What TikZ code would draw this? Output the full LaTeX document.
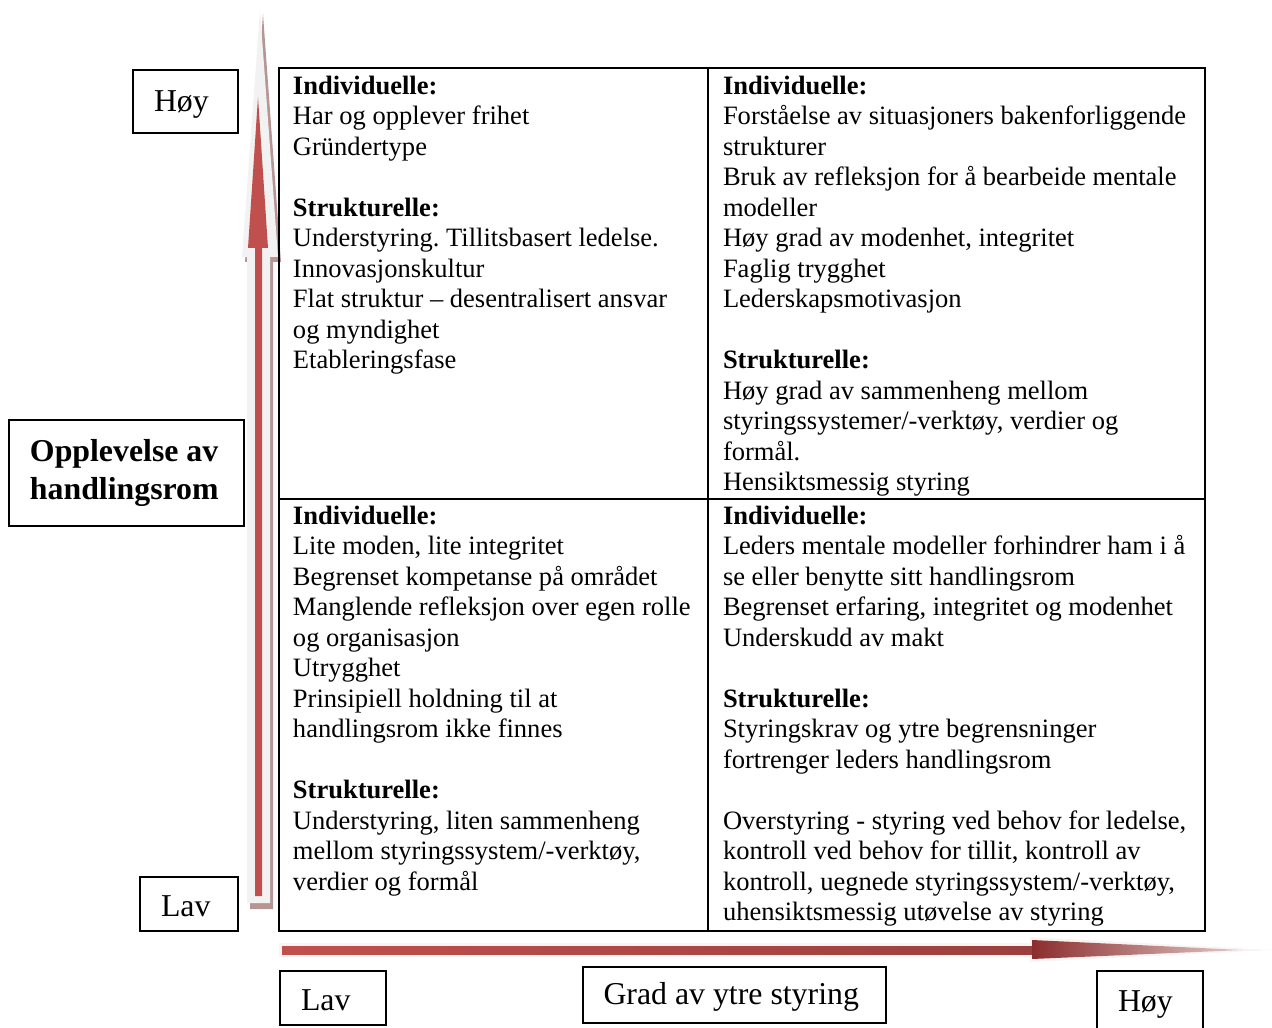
\documentclass[tikz,border=0pt]{standalone}
\usepackage{fontspec}
\setmainfont{Liberation Serif}
\usetikzlibrary{positioning}
\definecolor{axisred}{HTML}{C0504D}
\definecolor{axisdark}{HTML}{8C2D2D}
\definecolor{axislight}{HTML}{F2F2F2}
\definecolor{axisshade}{HTML}{B89595}
\def\pxu{0.4525pt}
\frenchspacing
\begin{document}
\begin{tikzpicture}[x=\pxu, y=-\pxu, line width=0.9pt,
  cell/.style={anchor=north west, inner sep=0pt, align=left, font=\fontsize{12}{13.8}\selectfont},
  label/.style={draw, line width=0.9pt, inner xsep=21*\pxu, inner ysep=0pt, align=flush left,
    font=\fontsize{14.4}{17.2}\selectfont},
  oneline/.style={text height=#1, text depth=1pt},
  oneline/.default=10pt]
\useasboundingbox (0,0) rectangle (1272,1028);
% vertical axis
\fill[axisshade] (263,14) -- (281,262) -- (273,262) -- (273,909) -- (250,909) -- (250,262) -- (245,262) -- cycle;
\fill[axislight] (260,10) -- (278,257) -- (270,257) -- (270,903) -- (247,903) -- (247,257) -- (242,257) -- cycle;
\fill[axisred] (258,97) -- (268,248) -- (262,248) -- (262,896) -- (255,896) -- (255,248) -- (248,248) -- cycle;
% horizontal axis
\fill[axislight!60!axisred!15] (279,943) -- (1030,943) -- (1030,937) -- (1272,950) -- (1030,962) -- (1030,957) -- (279,957) -- cycle;
\shade[left color=axisred, right color=axisred!80!black] (282,946) rectangle (1033,954);
\shade[left color=axisdark, right color=axisdark!25!white] (1032,940) -- (1243,950) -- (1032,959) -- cycle;
% grid
\draw (279,68) rectangle (1205,931);
\draw (708,68) -- (708,931);
\draw (279,499) -- (1205,499);
% cells
\node[cell] (topleft) at (292,75) {\textbf{Individuelle:}\\
Har og opplever frihet\\
Gründertype\\[13.8pt]
\textbf{Strukturelle:}\\
Understyring. Tillitsbasert ledelse.\\
Innovasjonskultur\\
Flat struktur – desentralisert ansvar\\
og myndighet\\
Etableringsfase};
\node[cell] (topright) at (722,75) {\textbf{Individuelle:}\\
Forståelse av situasjoners bakenforliggende\\
strukturer\\
Bruk av refleksjon for å bearbeide mentale\\
modeller\\
Høy grad av modenhet, integritet\\
Faglig trygghet\\
Lederskapsmotivasjon\\[13.8pt]
\textbf{Strukturelle:}\\
Høy grad av sammenheng mellom\\
styringssystemer/-verktøy, verdier og\\
formål.\\
Hensiktsmessig styring};
\node[cell] (bottomleft) at (292,505) {\textbf{Individuelle:}\\
Lite moden, lite integritet\\
Begrenset kompetanse på området\\
Manglende refleksjon over egen rolle\\
og organisasjon\\
Utrygghet\\
Prinsipiell holdning til at\\
handlingsrom ikke finnes\\[13.8pt]
\textbf{Strukturelle:}\\
Understyring, liten sammenheng\\
mellom styringssystem/-verktøy,\\
verdier og formål};
\node[cell] (bottomright) at (722,505) {\textbf{Individuelle:}\\
Leders mentale modeller forhindrer ham i å\\
se eller benytte sitt handlingsrom\\
Begrenset erfaring, integritet og modenhet\\
Underskudd av makt\\[13.8pt]
\textbf{Strukturelle:}\\
Styringskrav og ytre begrensninger\\
fortrenger leders handlingsrom\\[13.8pt]
Overstyring - styring ved behov for ledelse,\\
kontroll ved behov for tillit, kontroll av\\
kontroll, uegnede styringssystem/-verktøy,\\
uhensiktsmessig utøvelse av styring};
% axis labels
\node[label, oneline, text width=63*\pxu, minimum height=63*\pxu] (yhigh) at (185.5,101.5) {Høy};
\node[label, oneline=12.4pt, text width=56*\pxu, minimum height=54*\pxu] (ylow) at (189,904) {Lav};
\node[label, text width=193*\pxu, minimum height=106*\pxu, font=\fontsize{14.4}{17.2}\selectfont\bfseries] (ytitle) at (126.5,473) {Opplevelse av\\handlingsrom};
\node[label, oneline=12.4pt, text width=64*\pxu, minimum height=54*\pxu] (xlow) at (333,998) {Lav};
\node[label, oneline, text width=261*\pxu, minimum height=56*\pxu] (xtitle) at (734,995) {Grad av ytre styring};
\node[label, oneline, text width=64*\pxu, minimum height=62*\pxu] (xhigh) at (1150,1002) {Høy};
\end{tikzpicture}
\end{document}
